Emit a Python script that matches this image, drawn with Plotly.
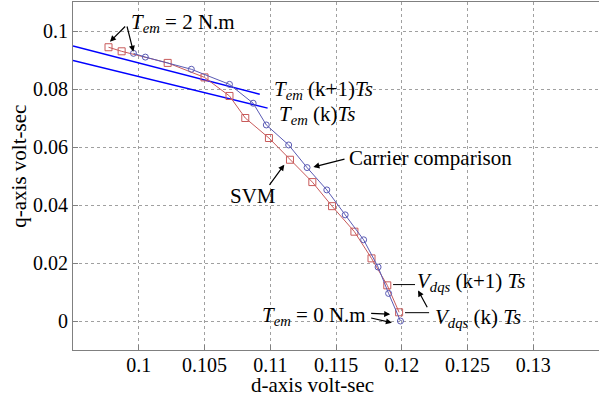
import plotly.graph_objects as go

# ---- data ----
svm_d = [0.0977, 0.0987, 0.1022, 0.1050, 0.1069, 0.1081, 0.1099, 0.1115,
         0.1132, 0.1147, 0.1164, 0.1177, 0.1189, 0.1198]
svm_q = [0.0944, 0.0930, 0.0890, 0.0840, 0.0776, 0.0700, 0.0631, 0.0556,
         0.0479, 0.0396, 0.0308, 0.0216, 0.0123, 0.0030]

car_d = [0.0996, 0.1005, 0.1040, 0.1069, 0.1087, 0.1097, 0.1114, 0.1128,
         0.1143, 0.1157, 0.1171, 0.1182, 0.1190, 0.1199]
car_q = [0.0923, 0.0910, 0.0868, 0.0816, 0.0751, 0.0676, 0.0607, 0.0529,
         0.0452, 0.0366, 0.0280, 0.0186, 0.0095, 0.0000]

tem_k1_d = [0.0950, 0.1092]
tem_k1_q = [0.0948, 0.0782]
tem_k_d = [0.0950, 0.1098]
tem_k_q = [0.0898, 0.0734]

x_ticks = [0.1, 0.105, 0.11, 0.115, 0.12, 0.125, 0.13]
x_tick_labels = ["0.1", "0.105", "0.11", "0.115", "0.12", "0.125", "0.13"]
y_ticks = [0, 0.02, 0.04, 0.06, 0.08, 0.1]
y_tick_labels = ["0", "0.02", "0.04", "0.06", "0.08", "0.1"]

FONT = "Liberation Serif, Times New Roman, serif"
RED = "#c85a5a"
BLUE = "#5a5ab4"

fig = go.Figure()
fig.add_trace(go.Scatter(x=tem_k1_d, y=tem_k1_q, mode="lines",
                         line=dict(color="#0000ff", width=1.5), showlegend=False))
fig.add_trace(go.Scatter(x=tem_k_d, y=tem_k_q, mode="lines",
                         line=dict(color="#0000ff", width=1.5), showlegend=False))
fig.add_trace(go.Scatter(x=svm_d, y=svm_q, mode="lines+markers",
                         line=dict(color=RED, width=1),
                         marker=dict(symbol="square-open", size=7, color=RED,
                                     line=dict(width=1)),
                         showlegend=False))
fig.add_trace(go.Scatter(x=car_d, y=car_q, mode="lines+markers",
                         line=dict(color=BLUE, width=1),
                         marker=dict(symbol="circle-open", size=6, color=BLUE,
                                     line=dict(width=1)),
                         showlegend=False))

tf = dict(family=FONT, size=21, color="black")
anns = []

def text(x, y, t, xanchor="left"):
    anns.append(dict(x=x, y=y, xref="x", yref="y", text=t, showarrow=False,
                     xanchor=xanchor, yanchor="middle", font=tf))

def arrow(x0, y0, x1, y1):
    anns.append(dict(x=x1, y=y1, ax=x0, ay=y0, xref="x", yref="y",
                     axref="x", ayref="y", text="", showarrow=True,
                     arrowhead=2, arrowsize=1, arrowwidth=1.2,
                     arrowcolor="black", standoff=0, startstandoff=0))

text(0.09926, 0.1028, "<i>T</i><sub><i>em</i></sub> = 2 N.m")
arrow(0.09908, 0.10207, 0.09781, 0.09631)
arrow(0.09908, 0.10207, 0.09959, 0.09286)

text(0.11013, 0.0795, "<i>T</i><sub><i>em</i></sub> (k+1)<i>Ts</i>")
text(0.11051, 0.0709, "<i>T</i><sub><i>em</i></sub> (k)<i>Ts</i>")

text(0.11584, 0.05621, "Carrier comparison")
arrow(0.11576, 0.05597, 0.11328, 0.05311)

text(0.10679, 0.04311, "SVM")
arrow(0.10986, 0.04645, 0.11107, 0.05390)

text(0.11740, 0.0016, "<i>T</i><sub><i>em</i></sub> = 0 N.m", xanchor="right")
arrow(0.11756, 0.00266, 0.11912, 0.00232)
arrow(0.11756, 0.00115, 0.11925, -0.00058)

text(0.12101, 0.0134, "<i>V</i><sub><i>dqs</i></sub> (k+1) <i>Ts</i>")
text(0.12238, 0.0010, "<i>V</i><sub><i>dqs</i></sub> (k) <i>Ts</i>")
arrow(0.12200, 0.00425, 0.12124, 0.01053)

# axis titles
anns.append(dict(x=0.4544, y=-0.102, xref="paper", yref="paper",
                 text="d-axis volt-sec", showarrow=False, xanchor="center",
                 yanchor="middle", font=tf))
anns.append(dict(x=-0.103, y=0.529, xref="paper", yref="paper",
                 text="q-axis volt-sec", showarrow=False, xanchor="center",
                 yanchor="middle", textangle=-90, font=tf))

shapes = [
    dict(type="line", xref="x", yref="y", x0=0.11934, x1=0.12101,
         y0=0.01256, y1=0.01256, line=dict(color="black", width=1)),
    dict(type="line", xref="x", yref="y", x0=0.12025, x1=0.12208,
         y0=0.00287, y1=0.00287, line=dict(color="black", width=1)),
]

fig.update_layout(
    width=605, height=399,
    margin=dict(l=73, r=6, t=2, b=49),
    paper_bgcolor="white", plot_bgcolor="white",
    annotations=anns, shapes=shapes,
    font=dict(family=FONT, size=20, color="black"),
)
fig.update_xaxes(range=[0.095, 0.135], tickvals=x_ticks, ticktext=x_tick_labels,
                 showgrid=True, gridcolor="#a0a0a0", griddash="dot", gridwidth=1,
                 showline=True, linecolor="#808080", linewidth=1, mirror=True,
                 ticks="inside", ticklen=5, tickcolor="#808080",
                 ticklabelstandoff=-3,
                 zeroline=False, tickfont=dict(family=FONT, size=20))
fig.update_yaxes(range=[-0.01, 0.11], tickvals=y_ticks, ticktext=y_tick_labels,
                 showgrid=True, gridcolor="#a0a0a0", griddash="dot", gridwidth=1,
                 showline=True, linecolor="#808080", linewidth=1,
                 ticks="inside", ticklen=5, tickcolor="#808080",
                 zeroline=False, tickfont=dict(family=FONT, size=20))

fig.write_html("out.html")
